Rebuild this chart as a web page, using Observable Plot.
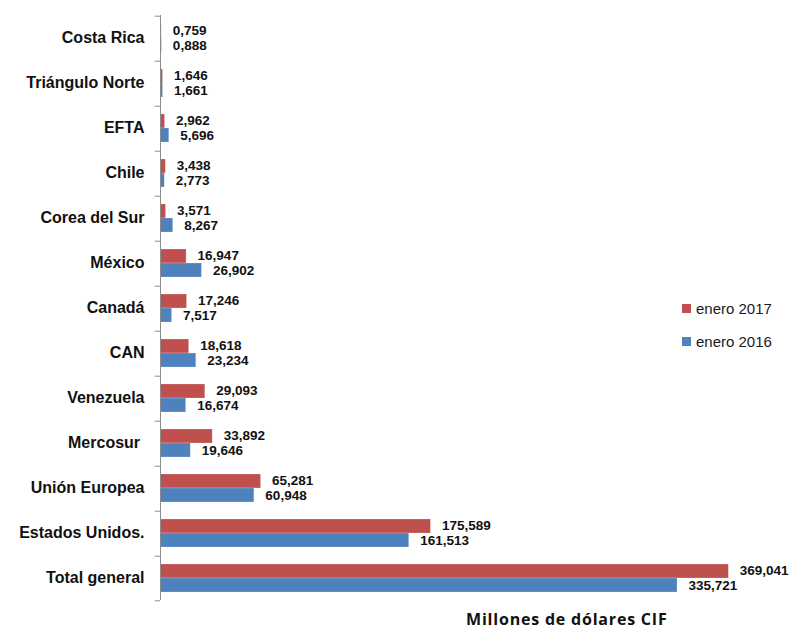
<!DOCTYPE html>
<html>
<head>
<meta charset="utf-8">
<script src="https://cdn.jsdelivr.net/npm/d3@7"></script>
<script src="https://cdn.jsdelivr.net/npm/@observablehq/plot@0.6"></script>
<style>
  body { margin: 0; background: #fff; }
  #wrap { position: relative; width: 799px; height: 631px; font-family: "Liberation Sans", Arial, sans-serif; }
  #legend { position: absolute; left: 682px; top: 292px; font-size: 15px; color: #1a1a1a; }
  #legend .row { display: flex; align-items: center; height: 33px; }
  #legend .sw { width: 9px; height: 9px; margin-right: 5px; }
  #xtitle { position: absolute; left: 466px; top: 611px; line-height: 16px; font-family: "Open Sans", sans-serif; font-weight: 700; font-size: 16px; letter-spacing: 0.8px; color: #111; white-space: nowrap; }
</style>
</head>
<body>
<div id="wrap"></div>
<script>
const categories = ["Costa Rica","Triángulo Norte","EFTA","Chile","Corea del Sur","México","Canadá","CAN","Venezuela","Mercosur ","Unión Europea","Estados Unidos.","Total general"];
const seriesNames = ["enero 2017","enero 2016"];
const seriesColors = ["#C0504D","#4F81BD"];
const v2017 = [0.759,1.646,2.962,3.438,3.571,16.947,17.246,18.618,29.093,33.892,65.281,175.589,369.041];
const v2016 = [0.888,1.661,5.696,2.773,8.267,26.902,7.517,23.234,16.674,19.646,60.948,161.513,335.721];
const xTitle = "Millones de dólares CIF";

const rows = categories.flatMap((c, i) => [
  {cat: c, series: seriesNames[0], value: v2017[i]},
  {cat: c, series: seriesNames[1], value: v2016[i]}
]);
const fmt = d3.formatLocale({decimal: ",", thousands: ".", grouping: [3], currency: ["", ""]}).format(".3f");
const labelOpts = {fy: "cat", y: "series", x: "value", text: d => fmt(d.value), dx: 11, textAnchor: "start", fontSize: 13.5, fontWeight: "bold", fill: "#111"};

const chart = Plot.plot({
  width: 799,
  height: 631,
  marginLeft: 160,
  marginRight: 23,
  marginTop: 11,
  marginBottom: 27,
  style: {fontFamily: "'Liberation Sans', Arial, sans-serif", color: "#111", background: "#fff"},
  x: {domain: [0, 400], axis: null},
  y: {domain: seriesNames, paddingInner: 0, paddingOuter: 0.52, axis: null},
  fy: {domain: categories, padding: 0},
  color: {domain: seriesNames, range: seriesColors},
  marks: [
    Plot.axisFy({anchor: "left", tickSize: 0, tickPadding: 16, fontSize: 16, fontWeight: "bold", label: null}),
    Plot.barX(rows, {fy: "cat", y: "series", x: "value", fill: "series", stroke: "#ffffff", strokeOpacity: 0.35, strokeWidth: 0.6}),
    Plot.text(rows.filter(d => d.series === seriesNames[0]), {...labelOpts, dy: -0.5}),
    Plot.text(rows.filter(d => d.series === seriesNames[1]), {...labelOpts, dy: 0.5}),
    Plot.ruleX([0], {stroke: "#8c8c8c", strokeWidth: 1}),
    Plot.ruleY(categories, {fy: d => d, y: () => seriesNames[0], x1: -3.4, x2: 0, dy: -15.3, stroke: "#8c8c8c"}),
    Plot.ruleY(categories.slice(-1), {fy: d => d, y: () => seriesNames[1], x1: -3.4, x2: 0, dy: 15.3, stroke: "#8c8c8c"})
  ]
});

const wrap = document.getElementById("wrap");
wrap.appendChild(chart);

const legend = document.createElement("div");
legend.id = "legend";
seriesNames.forEach((s, i) => {
  const row = document.createElement("div");
  row.className = "row";
  const sw = document.createElement("div");
  sw.className = "sw";
  sw.style.background = seriesColors[i];
  const t = document.createElement("span");
  t.textContent = s;
  row.appendChild(sw);
  row.appendChild(t);
  legend.appendChild(row);
});
wrap.appendChild(legend);

const xt = document.createElement("div");
xt.id = "xtitle";
xt.textContent = xTitle;
wrap.appendChild(xt);
</script>
</body>
</html>
